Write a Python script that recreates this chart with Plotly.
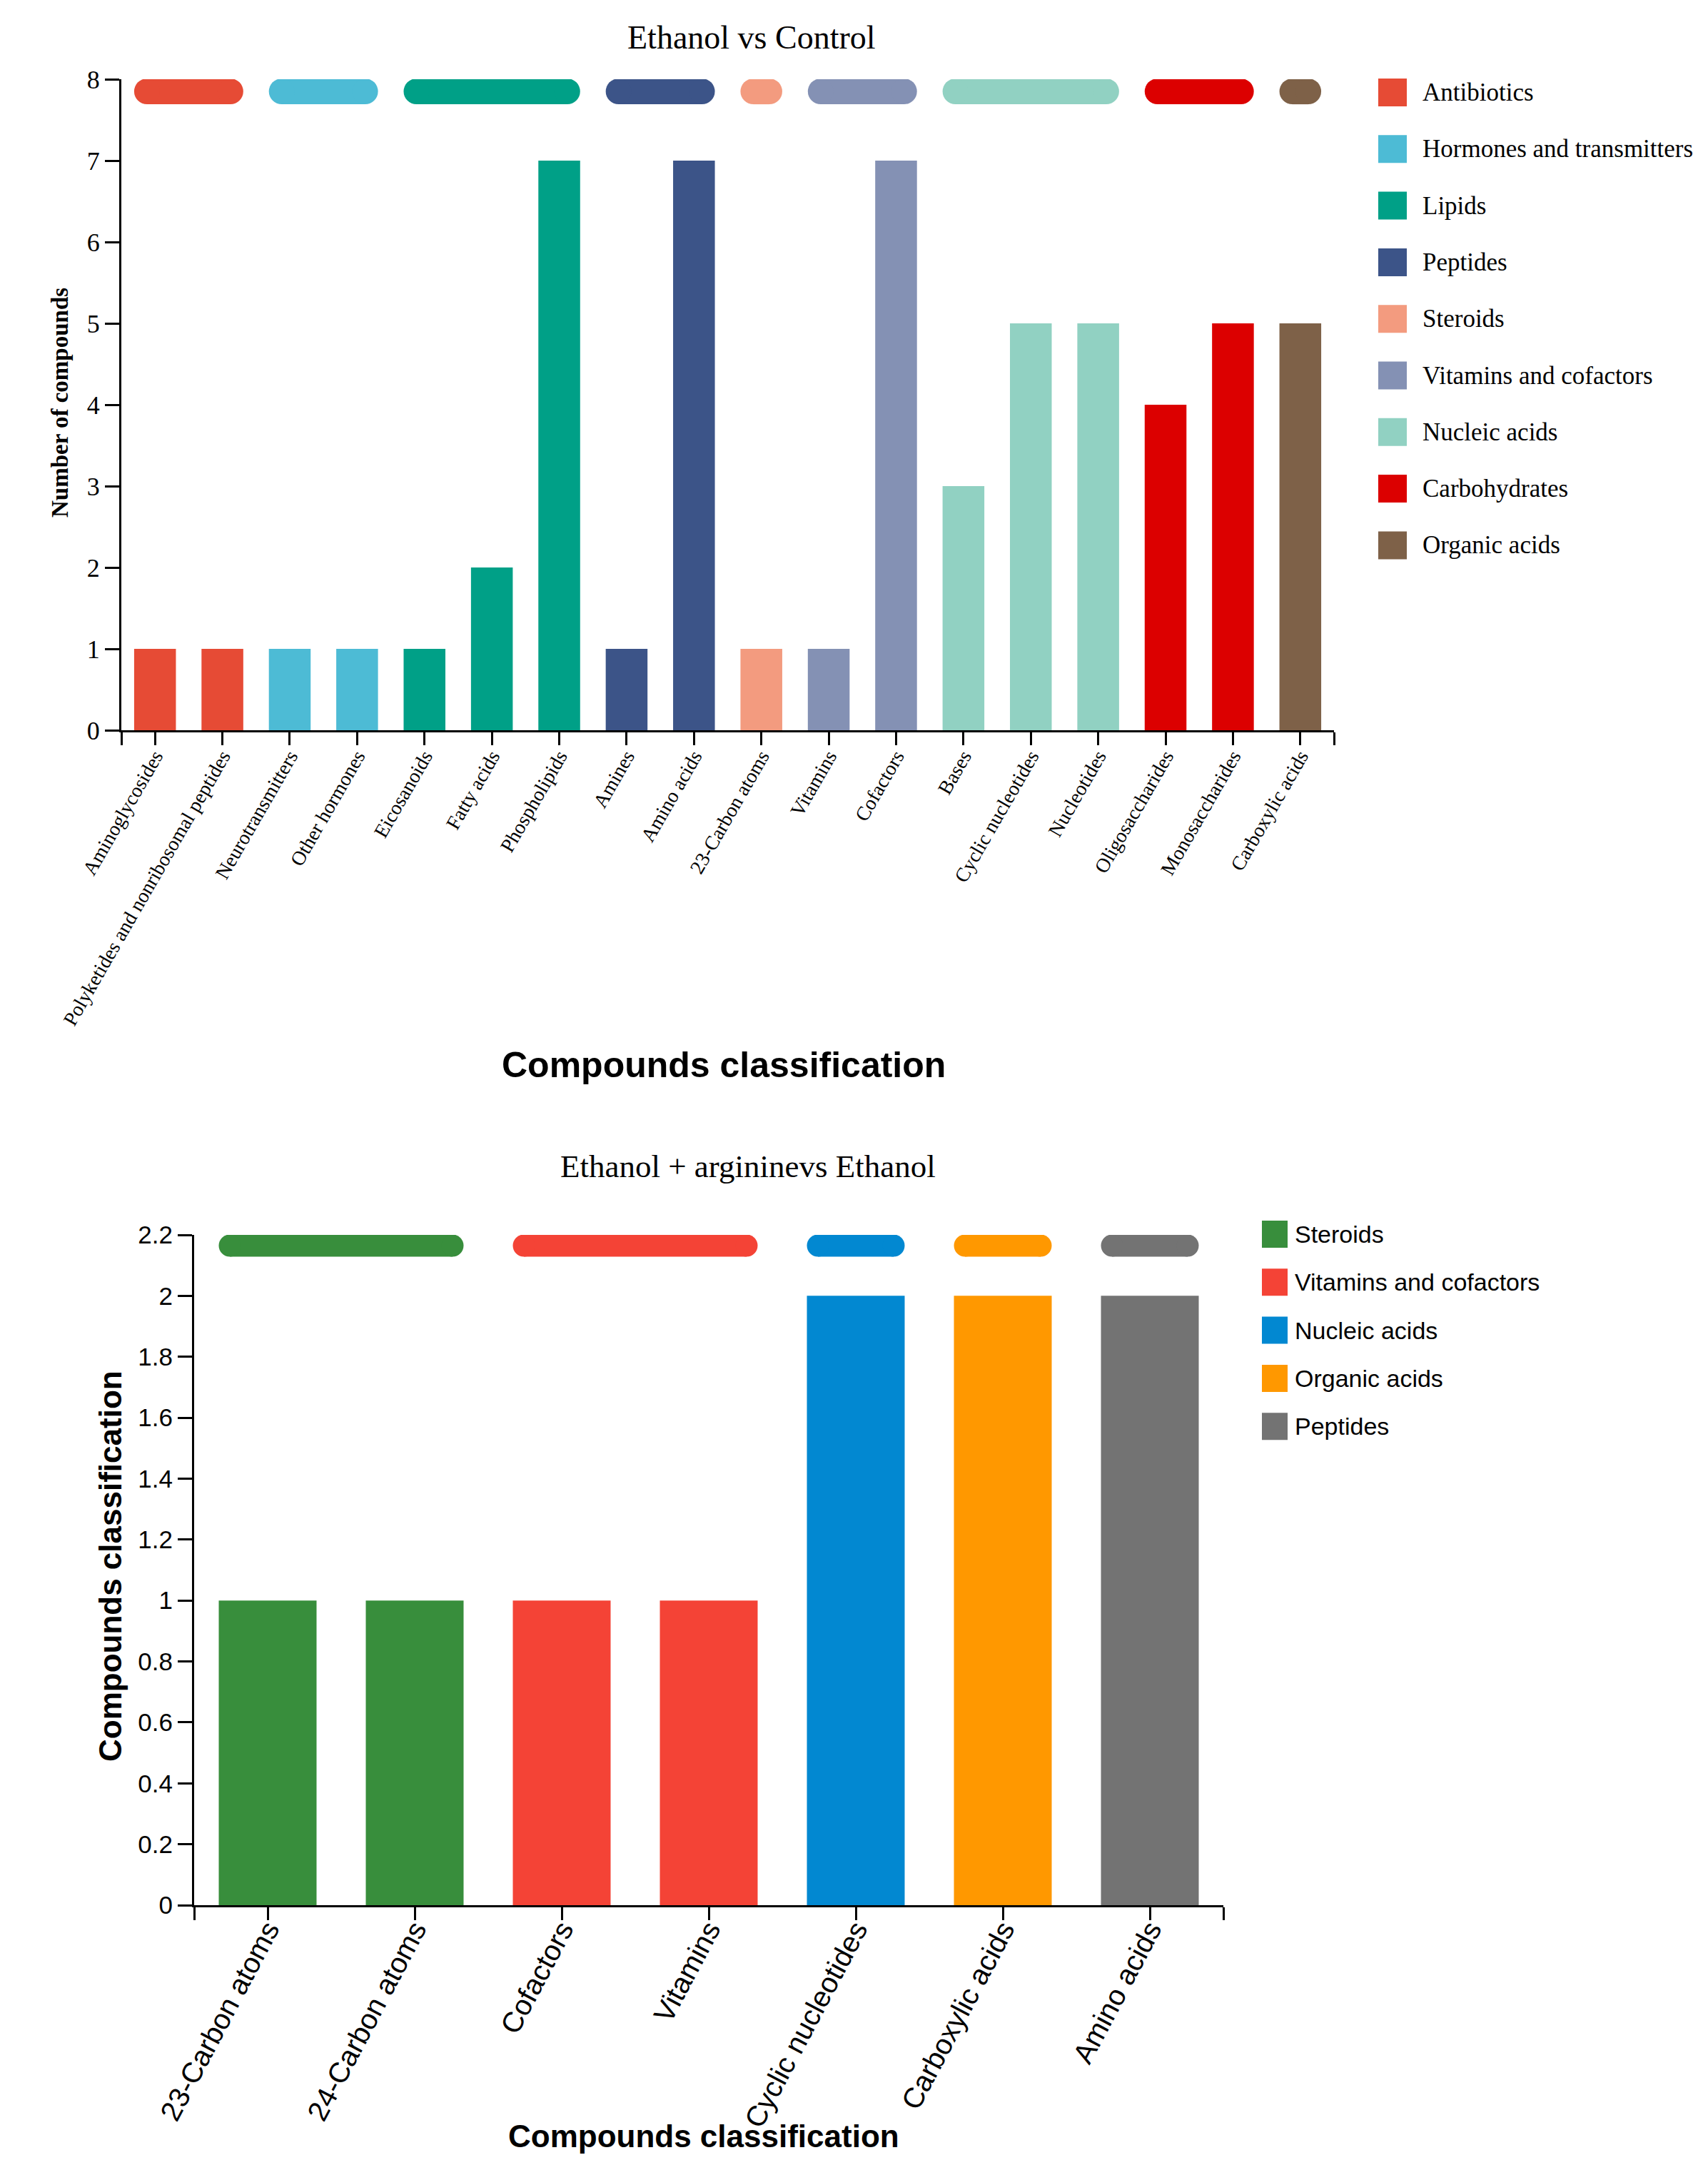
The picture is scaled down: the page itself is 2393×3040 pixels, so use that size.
import plotly.graph_objects as go

W, H = 2393, 3040

# ---- top panel: Ethanol vs Control ----
top_title = "Ethanol vs Control"
top_categories = [
    "Aminoglycosides", "Polyketides and nonribosomal peptides", "Neurotransmitters",
    "Other hormones", "Eicosanoids", "Fatty acids", "Phospholipids", "Amines",
    "Amino acids", "23-Carbon atoms", "Vitamins", "Cofactors", "Bases",
    "Cyclic nucleotides", "Nucleotides", "Oligosaccharides", "Monosaccharides",
    "Carboxylic acids",
]
top_counts = [1, 1, 1, 1, 1, 2, 7, 1, 7, 1, 1, 7, 3, 5, 5, 4, 5, 5]
top_classes = [
    "Antibiotics", "Antibiotics", "Hormones and transmitters", "Hormones and transmitters",
    "Lipids", "Lipids", "Lipids", "Peptides", "Peptides", "Steroids",
    "Vitamins and cofactors", "Vitamins and cofactors", "Nucleic acids", "Nucleic acids",
    "Nucleic acids", "Carbohydrates", "Carbohydrates", "Organic acids",
]
top_class_names = [
    "Antibiotics", "Hormones and transmitters", "Lipids", "Peptides", "Steroids",
    "Vitamins and cofactors", "Nucleic acids", "Carbohydrates", "Organic acids",
]
top_class_colors = [
    "#E64B35", "#4DBBD5", "#00A087", "#3C5488", "#F39B7F",
    "#8491B4", "#91D1C2", "#DC0000", "#7E6148",
]

# ---- bottom panel: Ethanol + arginine vs Ethanol ----
bottom_title = "Ethanol + argininevs Ethanol"
bottom_categories = [
    "23-Carbon atoms", "24-Carbon atoms", "Cofactors", "Vitamins",
    "Cyclic nucleotides", "Carboxylic acids", "Amino acids",
]
bottom_counts = [1, 1, 1, 1, 2, 2, 2]
bottom_classes = [
    "Steroids", "Steroids", "Vitamins and cofactors", "Vitamins and cofactors",
    "Nucleic acids", "Organic acids", "Peptides",
]
bottom_class_names = ["Steroids", "Vitamins and cofactors", "Nucleic acids", "Organic acids", "Peptides"]
bottom_class_colors = ["#388E3C", "#F44336", "#0288D1", "#FF9800", "#737373"]

SERIF = "Liberation Serif, Times New Roman, serif"
SANS = "Liberation Sans, Arial, sans-serif"


def fx(px):
    return px / W


def fy(py):
    return 1 - py / H


fig = go.Figure()
shapes, annotations = [], []


def add_panel(classes, counts, names, colors, xa, ya, bar_w, pill_y, pill_h, px_per_cat):
    r = pill_h / 2
    r_cat = r / px_per_cat  # cap radius in category units
    for name, color in zip(names, colors):
        idx = [i for i, c in enumerate(classes) if c == name]
        fig.add_trace(go.Bar(
            x=idx, y=[counts[i] for i in idx], width=bar_w,
            marker=dict(color=color, line=dict(width=0)), xaxis=xa, yaxis=ya,
            name=name, showlegend=False,
        ))
        # rounded class band above the bars
        x0 = min(idx) - bar_w / 2 + r_cat
        x1 = max(idx) + bar_w / 2 - r_cat
        shapes.append(dict(type="rect", xref=xa, yref=ya, x0=x0, x1=x1,
                           ysizemode="pixel", yanchor=pill_y, y0=-r, y1=r,
                           fillcolor=color, line=dict(width=0), layer="above"))
        for xc in (x0, x1):
            shapes.append(dict(type="circle", xref=xa, yref=ya,
                               xsizemode="pixel", xanchor=xc, x0=-r, x1=r,
                               ysizemode="pixel", yanchor=pill_y, y0=-r, y1=r,
                               fillcolor=color, line=dict(width=0), layer="above"))


add_panel(top_classes, top_counts, top_class_names, top_class_colors,
          "x", "y", 0.62, 7.85, 36, (1861 - 162) / 18)
add_panel(bottom_classes, bottom_counts, bottom_class_names, bottom_class_colors,
          "x2", "y2", 0.665, 2.165, 31, (1706 - 264) / 7)


def legend(names, colors, sw_x0, sw_x1, text_x, row0, step, sw_h, font):
    for i, (name, color) in enumerate(zip(names, colors)):
        yc = row0 + step * i
        shapes.append(dict(type="rect", xref="paper", yref="paper",
                           x0=fx(sw_x0), x1=fx(sw_x1), y0=fy(yc + sw_h / 2), y1=fy(yc - sw_h / 2),
                           fillcolor=color, line=dict(width=0)))
        annotations.append(dict(text=name, xref="paper", yref="paper", x=fx(text_x), y=fy(yc),
                                xanchor="left", yanchor="middle", showarrow=False, font=font))


legend(top_class_names, top_class_colors, 1923, 1963, 1983, 121.5, 79.3, 39,
       dict(family=SERIF, size=35, color="black"))
legend(bottom_class_names, bottom_class_colors, 1760, 1796, 1804, 1721, 67.3, 38,
       dict(family=SANS, size=34, color="black"))

# titles
annotations += [
    dict(text=top_title, xref="paper", yref="paper", x=fx(1045), y=fy(45), xanchor="center",
         yanchor="middle", showarrow=False, font=dict(family=SERIF, size=46, color="black")),
    dict(text="<b>Number of compounds</b>", xref="paper", yref="paper", x=fx(76), y=fy(556),
         xanchor="center", yanchor="middle", textangle=-90, showarrow=False,
         font=dict(family=SERIF, size=33, color="black")),
    dict(text="<b>Compounds classification</b>", xref="paper", yref="paper", x=fx(1006), y=fy(1484),
         xanchor="center", yanchor="middle", showarrow=False,
         font=dict(family=SANS, size=50, color="black")),
    dict(text=bottom_title, xref="paper", yref="paper", x=fx(1040), y=fy(1626), xanchor="center",
         yanchor="middle", showarrow=False, font=dict(family=SERIF, size=45, color="black")),
    dict(text="<b>Compounds classification</b>", xref="paper", yref="paper", x=fx(146), y=fy(2186),
         xanchor="center", yanchor="middle", textangle=-90, showarrow=False,
         font=dict(family=SANS, size=44, color="black")),
    dict(text="<b>Compounds classification</b>", xref="paper", yref="paper", x=fx(978), y=fy(2984),
         xanchor="center", yanchor="middle", showarrow=False,
         font=dict(family=SANS, size=44, color="black")),
]

axis_common = dict(showgrid=False, zeroline=False, showline=True, linecolor="black", linewidth=3,
                   ticks="outside", tickcolor="black", tickwidth=3, automargin=False)

n_top = len(top_categories)
n_bot = len(bottom_categories)

fig.update_layout(
    width=W, height=H, margin=dict(l=0, r=0, t=0, b=0),
    paper_bgcolor="white", plot_bgcolor="white", barmode="overlay",
    showlegend=False, shapes=shapes, annotations=annotations,
    xaxis=dict(domain=[fx(162), fx(1861)], range=[-0.5, n_top - 0.5], anchor="y",
               tickmode="array", tickvals=[-0.5] + list(range(n_top)) + [n_top - 0.5],
               ticktext=[""] + top_categories + [""], tickangle=-60, ticklen=18,
               ticklabelstandoff=-12,
               tickfont=dict(family=SERIF, size=28, color="black"), **axis_common),
    yaxis=dict(domain=[fy(1015), fy(103)], range=[0, 8], anchor="x", dtick=1, ticklen=20,
               tickfont=dict(family=SERIF, size=36, color="black"), **axis_common),
    xaxis2=dict(domain=[fx(264), fx(1706)], range=[-0.5, n_bot - 0.5], anchor="y2",
                tickmode="array", tickvals=[-0.5] + list(range(n_bot)) + [n_bot - 0.5],
                ticktext=[""] + bottom_categories + [""], tickangle=-62, ticklen=18,
                ticklabelstandoff=-26,
                tickfont=dict(family=SANS, size=40, color="black"), **axis_common),
    yaxis2=dict(domain=[fy(2661), fy(1722)], range=[0, 2.2], anchor="x2", dtick=0.2, ticklen=20,
                tickfont=dict(family=SANS, size=35, color="black"), **axis_common),
)

fig.write_html("out.html")
